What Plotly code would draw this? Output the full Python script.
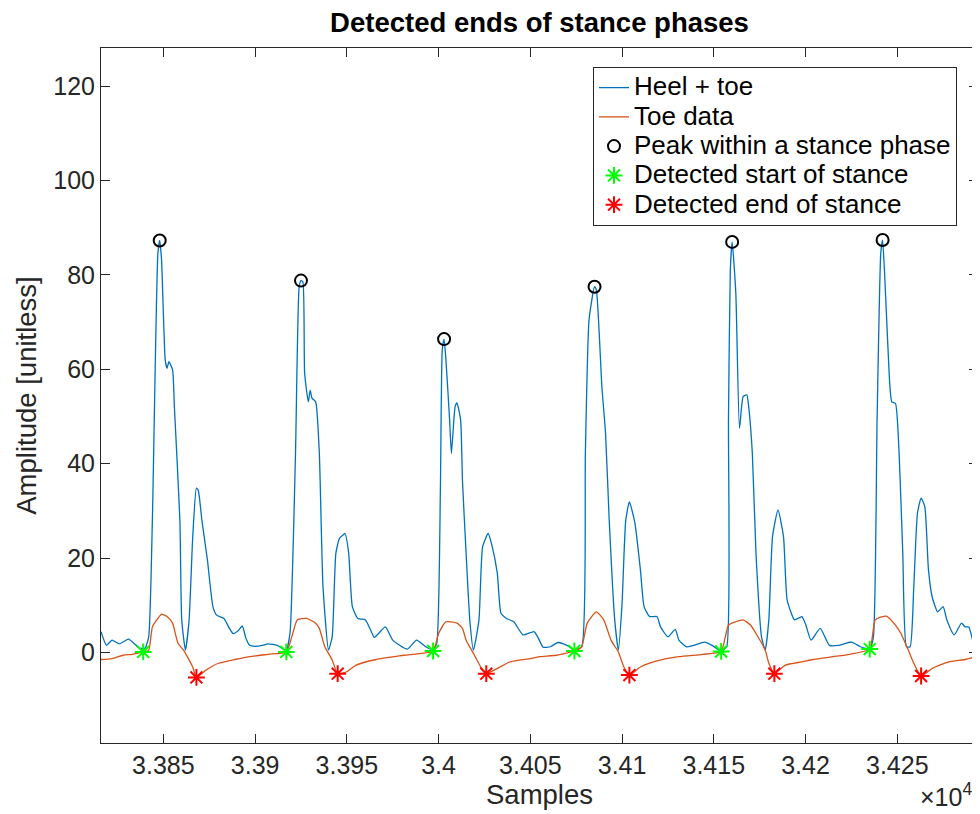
import plotly.graph_objects as go

# ---- Heel + toe signal (sample index, amplitude) ----
heel_x = [33816, 33819, 33822, 33826, 33831, 33834, 33837, 33840, 33842, 33844,
          33847, 33848, 33849, 33851, 33852, 33853, 33855, 33856, 33859, 33860,
          33862, 33864, 33866, 33868, 33869, 33871, 33874, 33877, 33879, 33883,
          33886, 33888, 33891, 33893, 33895, 33897, 33900, 33904, 33907, 33912,
          33915, 33917, 33919, 33922, 33924, 33925, 33926, 33927, 33929, 33930,
          33931, 33933, 33935, 33937, 33940, 33942, 33944, 33946, 33948, 33949,
          33951, 33953, 33956, 33960, 33963, 33965, 33971, 33975, 33983, 33988,
          33993, 33997, 33999, 34001, 34002, 34003, 34004, 34006, 34007, 34009,
          34010, 34012, 34013, 34015, 34017, 34019, 34022, 34024, 34027, 34029,
          34032, 34034, 34037, 34041, 34046, 34052, 34054, 34057, 34061, 34065,
          34070, 34074, 34078, 34080, 34082, 34085, 34086, 34089, 34091, 34093,
          34096, 34098, 34100, 34102, 34104, 34107, 34110, 34112, 34115, 34119,
          34121, 34125, 34129, 34131, 34135, 34139, 34145, 34149, 34154, 34157,
          34158, 34159, 34160, 34162, 34164, 34166, 34168, 34169, 34171, 34173,
          34176, 34178, 34180, 34182, 34185, 34188, 34190, 34194, 34198, 34200,
          34203, 34208, 34213, 34218, 34225, 34230, 34235, 34237, 34239, 34241,
          34242, 34243, 34246, 34247, 34249, 34251, 34253, 34255, 34257, 34259,
          34261, 34263, 34265, 34267, 34269, 34272, 34275, 34277, 34281, 34285,
          34287, 34289, 34292, 34294]
heel_y = [4.4, 1.5, 2.6, 1.8, 2.8, 1.9, 0.9, 0.9, 3.3, 28.0,
          84.6, 87.3, 83.2, 62.0, 60.2, 61.6, 59.9, 52.0, 28.0, 6.9,
          0.5, 6.8, 24.5, 34.8, 34.4, 28.0, 19.6, 9.7, 7.9, 7.2,
          5.1, 4.0, 4.7, 5.6, 3.0, 1.5, 1.3, 1.5, 1.8, 1.5,
          0.8, 0.5, 4.0, 42.0, 77.5, 78.8, 78.6, 59.2, 53.1, 55.6,
          53.9, 53.1, 42.2, 13.9, 0.5, 3.3, 21.0, 24.2, 24.9, 25.2,
          21.0, 9.7, 7.2, 6.9, 4.7, 3.2, 5.4, 2.6, 0.7, 2.6,
          1.2, 0.5, 1.9, 35.1, 64.1, 66.4, 62.0, 49.3, 42.2, 52.1,
          52.9, 49.3, 36.5, 21.0, 6.9, 0.5, 6.9, 22.4, 25.2, 22.8,
          16.8, 8.3, 7.2, 6.5, 3.7, 4.4, 3.3, 1.1, 1.2, 2.1,
          1.5, 0.5, 1.2, 42.2, 70.5, 77.5, 76.8, 56.3, 46.4, 28.0,
          6.9, 0.5, 10.4, 28.0, 31.9, 27.4, 17.5, 9.7, 7.6, 7.6,
          5.4, 3.3, 4.9, 2.6, 1.2, 1.5, 2.2, 1.5, 0.3, 1.2,
          49.3, 81.0, 87.0, 76.1, 47.5, 54.2, 54.6, 52.1, 42.2, 21.0,
          3.3, 0.5, 6.9, 24.5, 30.2, 24.5, 11.1, 6.9, 7.6, 6.0,
          2.6, 5.1, 1.5, 1.5, 2.2, 1.2, 0.8, 3.3, 49.3, 84.6,
          87.4, 81.0, 56.3, 53.1, 52.8, 42.2, 21.0, 1.2, 1.2, 13.9,
          29.5, 32.7, 30.9, 17.5, 11.8, 8.6, 9.7, 6.9, 3.7, 6.2,
          5.4, 5.4, 1.5, 1.2]

# ---- Toe data ----
toe_x = [33816, 33822, 33828, 33833, 33839, 33842, 33844, 33847, 33849, 33852,
         33855, 33858, 33861, 33866, 33868, 33873, 33880, 33889, 33897, 33907,
         33917, 33920, 33923, 33928, 33933, 33935, 33938, 33942, 33945, 33950,
         33955, 33966, 33981, 33997, 34000, 34004, 34010, 34013, 34015, 34019,
         34023, 34026, 34032, 34039, 34050, 34055, 34064, 34074, 34078, 34081,
         34086, 34090, 34094, 34098, 34101, 34104, 34110, 34119, 34131, 34144,
         34154, 34158, 34162, 34166, 34170, 34173, 34178, 34180, 34183, 34189,
         34198, 34204, 34215, 34224, 34235, 34238, 34244, 34249, 34252, 34256,
         34259, 34263, 34269, 34278, 34287, 34294]
toe_y = [-1.5, -1.3, -0.6, -0.4, 0.1, 0.5, 5.4, 7.2, 8.1, 7.6,
         6.2, 1.9, 0.5, -3.1, -5.3, -3.8, -2.3, -1.5, -0.9, -0.4,
         0.1, 3.3, 6.9, 7.2, 6.2, 5.1, 1.2, -1.6, -4.5, -4.1,
         -2.7, -1.5, -0.6, 0.3, 4.0, 6.5, 6.2, 5.1, 2.6, -0.2,
         -3.1, -4.5, -3.4, -2.0, -1.3, -0.9, -0.6, 0.3, 1.2, 6.2,
         8.6, 6.9, 2.6, 0.1, -3.1, -4.8, -3.1, -1.8, -0.9, -0.4,
         0.2, 5.8, 6.5, 6.9, 5.8, 4.0, 0.5, -2.3, -4.5, -2.7,
         -2.0, -1.5, -0.9, -0.4, 0.7, 6.9, 7.7, 5.8, 4.0, 0.5,
         -2.3, -5.0, -3.4, -2.0, -1.5, -0.8]

# ---- Detected events ----
peak_x = [33848, 33925, 34003, 34085, 34160, 34242]
peak_y = [87.3, 78.8, 66.4, 77.5, 87.0, 87.4]
start_x = [33839, 33917, 33997, 34074, 34154, 34235]
start_y = [0.1, 0.1, 0.3, 0.3, 0.2, 0.7]
end_x = [33868, 33945, 34026, 34104, 34183, 34263]
end_y = [-5.3, -4.5, -4.5, -4.8, -4.5, -5.0]

# ---- Axis ticks / labels ----
x_tickvals = [33850, 33900, 33950, 34000, 34050, 34100, 34150, 34200, 34250]
x_ticktext = ["3.385", "3.39", "3.395", "3.4", "3.405", "3.41", "3.415", "3.42", "3.425"]
y_tickvals = [0, 20, 40, 60, 80, 100, 120]
series_names = ["Heel + toe", "Toe data", "Peak within a stance phase",
                "Detected start of stance", "Detected end of stance"]

FONT = "Liberation Sans, Arial, Helvetica, sans-serif"
AX = "#262626"


def leg(name):
    return '<span style="font-size:26px">' + name + '</span>'


fig = go.Figure()
fig.add_trace(go.Scatter(x=heel_x, y=heel_y, mode="lines", name=leg(series_names[0]),
                         line=dict(color="#0072BD", width=1.3, shape="spline", smoothing=0.5)))
fig.add_trace(go.Scatter(x=toe_x, y=toe_y, mode="lines", name=leg(series_names[1]),
                         line=dict(color="#D95319", width=1.3, shape="spline", smoothing=0.5)))
fig.add_trace(go.Scatter(x=peak_x, y=peak_y, mode="markers", name=leg(series_names[2]),
                         marker=dict(symbol="circle-open", size=12, color="black",
                                     line=dict(width=2, color="black"))))
fig.add_trace(go.Scatter(x=start_x, y=start_y, mode="markers", name=leg(series_names[3]),
                         marker=dict(symbol="asterisk-open", size=14, color="#00FF00",
                                     line=dict(width=2, color="#00FF00"))))
fig.add_trace(go.Scatter(x=end_x, y=end_y, mode="markers", name=leg(series_names[4]),
                         marker=dict(symbol="asterisk-open", size=14, color="#FF0000",
                                     line=dict(width=2, color="#FF0000"))))

axis_common = dict(showline=True, linecolor=AX, linewidth=1, mirror="ticks",
                   ticks="inside", ticklen=9, tickcolor=AX, tickwidth=1,
                   showgrid=False, zeroline=False,
                   tickfont=dict(family=FONT, size=25, color=AX))

fig.update_xaxes(range=[33816, 34294], tickvals=x_tickvals, ticktext=x_ticktext,
                 title=dict(text="Samples", font=dict(family=FONT, size=27.5, color=AX), standoff=6),
                 **axis_common)
fig.update_yaxes(range=[-19.2, 128.1], tickvals=y_tickvals,
                 title=dict(text="Amplitude [unitless]", font=dict(family=FONT, size=27.5, color=AX), standoff=8),
                 **axis_common)

# The page body adds an 8px offset, so the figure is 8px smaller and margins compensate.
W, H = 972, 806
fig.update_layout(
    width=W, height=H,
    margin=dict(l=93, r=2, t=40, b=71),
    paper_bgcolor="white", plot_bgcolor="white",
    title=dict(text="<b>Detected ends of stance phases</b>", x=0.5, xref="paper",
               y=1 - 14 / H, yref="container", yanchor="middle", xanchor="center",
               font=dict(family=FONT, size=27.5, color="black")),
    legend=dict(x=0.561, y=0.9727, xanchor="left", yanchor="top",
                bgcolor="white", bordercolor=AX, borderwidth=1,
                font=dict(family=FONT, size=20.2, color="black"),
                tracegroupgap=0),
    showlegend=True,
    annotations=[dict(text="×10<sup>4</sup>", x=0.9316, xref="paper", xanchor="left",
                      y=-0.075, yref="paper", yanchor="middle", showarrow=False,
                      font=dict(family=FONT, size=25, color=AX))],
)

fig.write_html("out.html")
